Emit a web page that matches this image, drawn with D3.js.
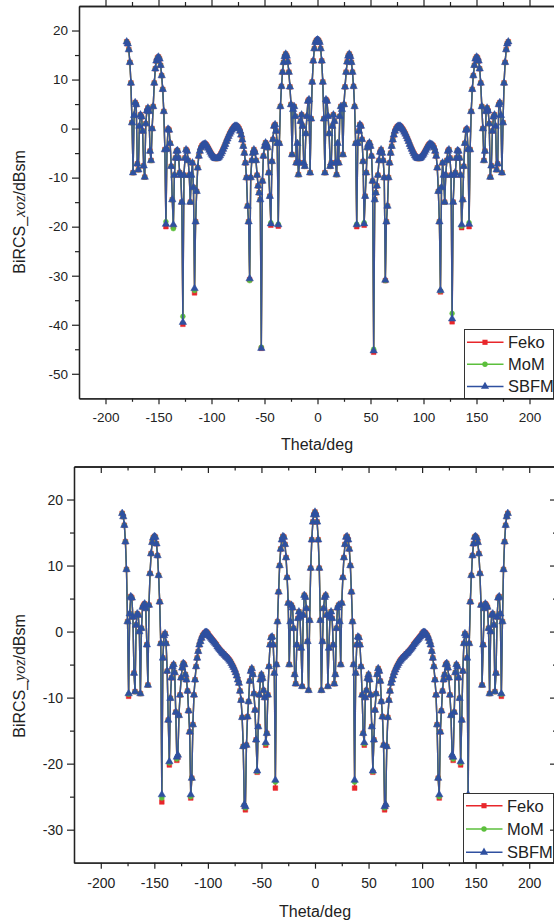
<!DOCTYPE html>
<html><head><meta charset="utf-8">
<script src="https://cdn.jsdelivr.net/npm/d3@7"></script>
<style>
body{margin:0;background:#fff}
svg{display:block}
text{font-family:"Liberation Sans",Arial,sans-serif;fill:#222}
</style></head>
<body><svg id="c" width="554" height="923"></svg>
<script>
const theta = [
-180,-179,-178,-177,-176,-175,-174,-173,-172,-171,-170,-169,-168,-167,-166,-165,-164,-163,-162,-161,
-160,-159,-158,-157,-156,-155,-154,-153,-152,-151,-150,-149,-148,-147,-146,-145,-144,-143,-142,-141,
-140,-139,-138,-137,-136,-135,-134,-133,-132,-131,-130,-129,-128,-127,-126,-125,-124,-123,-122,-121,
-120,-119,-118,-117,-116,-115,-114,-113,-112,-111,-110,-109,-108,-107,-106,-105,-104,-103,-102,-101,
-100,-99,-98,-97,-96,-95,-94,-93,-92,-91,-90,-89,-88,-87,-86,-85,-84,-83,-82,-81,
-80,-79,-78,-77,-76,-75,-74,-73,-72,-71,-70,-69,-68,-67,-66,-65,-64,-63,-62,-61,
-60,-59,-58,-57,-56,-55,-54,-53,-52,-51,-50,-49,-48,-47,-46,-45,-44,-43,-42,-41,
-40,-39,-38,-37,-36,-35,-34,-33,-32,-31,-30,-29,-28,-27,-26,-25,-24,-23,-22,-21,
-20,-19,-18,-17,-16,-15,-14,-13,-12,-11,-10,-9,-8,-7,-6,-5,-4,-3,-2,-1,
0,1,2,3,4,5,6,7,8,9,10,11,12,13,14,15,16,17,18,19,
20,21,22,23,24,25,26,27,28,29,30,31,32,33,34,35,36,37,38,39,
40,41,42,43,44,45,46,47,48,49,50,51,52,53,54,55,56,57,58,59,
60,61,62,63,64,65,66,67,68,69,70,71,72,73,74,75,76,77,78,79,
80,81,82,83,84,85,86,87,88,89,90,91,92,93,94,95,96,97,98,99,
100,101,102,103,104,105,106,107,108,109,110,111,112,113,114,115,116,117,118,119,
120,121,122,123,124,125,126,127,128,129,130,131,132,133,134,135,136,137,138,139,
140,141,142,143,144,145,146,147,148,149,150,151,152,153,154,155,156,157,158,159,
160,161,162,163,164,165,166,167,168,169,170,171,172,173,174,175,176,177,178,179,
180];

const xozFeko = [
17.7,17.3,16.1,13.5,9.3,1.2,-9.0,2.7,5.3,4.9,
-7.2,-8.4,0.5,2.8,2.4,-0.5,-7.6,-9.9,1.0,3.6,
4.2,3.5,-4.6,-6.5,0.0,4.5,9.3,12.2,13.8,14.4,
14.6,14.2,12.9,10.8,8.0,3.5,-4.3,-20.0,-4.2,-0.1,
-0.3,-3.0,-7.7,-14.5,-20.0,-9.5,-6.0,-4.6,-4.5,-6.0,
-9.0,-9.5,-15.0,-39.9,-9.5,-6.0,-4.3,-4.6,-6.5,-9.5,
-15.0,-9.5,-7.0,-12.0,-33.5,-19.0,-12.8,-8.0,-5.6,-4.6,
-3.9,-3.5,-3.3,-3.2,-3.1,-3.3,-3.6,-4.0,-4.4,-4.8,
-5.2,-5.5,-5.8,-6.0,-6.1,-6.1,-6.0,-5.8,-5.5,-5.1,
-4.7,-4.2,-3.7,-3.2,-2.6,-2.1,-1.6,-1.1,-0.7,-0.3,
0.0,0.3,0.5,0.5,0.5,0.3,0.0,-0.5,-1.3,-2.3,
-3.6,-5.0,-7.0,-10.0,-15.8,-19.0,-30.8,-10.0,-6.5,-5.0,
-4.3,-4.8,-6.5,-9.5,-11.7,-13.1,-14.5,-44.8,-10.7,-5.6,
-3.6,-2.9,-3.2,-3.9,-9.0,-13.8,-19.7,-6.7,-2.2,0.5,
0.8,-0.5,-3.0,-19.9,-3.0,4.5,8.6,11.5,13.5,14.7,
15.2,14.8,13.6,11.5,8.5,4.9,-5.3,3.9,4.5,2.5,
-7.0,-3.0,-9.4,-7.0,1.5,2.8,0.5,-7.0,-7.7,-1.0,
2.5,5.6,5.9,-9.0,2.0,9.5,13.8,16.3,17.6,18.0,
18.1,
18.0,17.6,16.3,13.8,9.5,2.0,-9.0,5.9,5.6,2.5,
-1.0,-7.7,-7.0,0.5,2.8,1.5,-7.0,-9.4,-3.0,-7.0,
2.5,4.5,3.9,-5.3,4.9,8.5,11.5,13.6,14.8,15.2,
14.7,13.5,11.5,8.6,4.5,-3.0,-20.0,-3.0,-0.5,0.8,
0.5,-2.2,-6.7,-19.7,-13.8,-9.0,-3.9,-3.2,-2.9,-3.6,
-5.6,-10.7,-45.6,-14.5,-13.1,-11.7,-9.5,-6.5,-4.8,-4.3,
-5.0,-6.5,-10.0,-31.0,-19.0,-15.8,-10.0,-7.0,-5.0,-3.6,
-2.3,-1.3,-0.5,0.0,0.3,0.5,0.5,0.5,0.3,0.0,
-0.3,-0.7,-1.1,-1.6,-2.1,-2.6,-3.2,-3.7,-4.2,-4.7,
-5.1,-5.5,-5.8,-6.0,-6.1,-6.1,-6.0,-5.8,-5.5,-5.2,
-4.8,-4.4,-4.0,-3.6,-3.3,-3.1,-3.2,-3.3,-3.5,-3.9,
-4.6,-5.6,-8.0,-12.8,-19.0,-33.3,-12.0,-7.0,-9.5,-15.0,
-9.5,-6.5,-4.6,-4.3,-6.0,-9.5,-39.4,-15.0,-9.5,-9.0,
-6.0,-4.5,-4.6,-6.0,-9.5,-20.2,-14.5,-7.7,-3.0,-0.3,
-0.1,-4.2,-20.0,-4.3,3.5,8.0,10.8,12.9,14.2,14.6,
14.4,13.8,12.2,9.3,4.5,0.0,-6.5,-4.6,3.5,4.2,
3.6,1.0,-9.9,-7.6,-0.5,2.4,2.8,0.5,-8.4,-7.2,
4.9,5.3,2.7,-9.0,1.2,9.3,13.5,16.1,17.3,17.7];

const xozMoM = [
17.7,17.3,16.1,13.5,9.3,1.2,-9.0,2.7,5.3,4.9,
-7.2,-8.4,0.5,2.8,2.4,-0.5,-7.6,-9.9,1.0,3.6,
4.2,3.5,-4.6,-6.5,0.0,4.5,9.3,12.2,13.8,14.4,
14.6,14.2,12.9,10.8,8.0,3.5,-4.3,-19.0,-4.2,-0.1,
-0.3,-3.0,-7.7,-14.5,-20.4,-9.5,-6.0,-4.6,-4.5,-6.0,
-9.0,-9.5,-15.0,-38.3,-9.5,-6.0,-4.3,-4.6,-6.5,-9.5,
-15.0,-9.5,-7.0,-12.0,-33.0,-19.0,-12.8,-8.0,-5.6,-4.6,
-3.9,-3.5,-3.3,-3.2,-3.1,-3.3,-3.6,-4.0,-4.4,-4.8,
-5.2,-5.5,-5.8,-6.0,-6.1,-6.1,-6.0,-5.8,-5.5,-5.1,
-4.7,-4.2,-3.7,-3.2,-2.6,-2.1,-1.6,-1.1,-0.7,-0.3,
0.0,0.3,0.5,0.5,0.5,0.3,0.0,-0.5,-1.3,-2.3,
-3.6,-5.0,-7.0,-10.0,-15.8,-19.0,-31.0,-10.0,-6.5,-5.0,
-4.3,-4.8,-6.5,-9.5,-11.7,-13.1,-14.5,-44.6,-10.7,-5.6,
-3.6,-2.9,-3.2,-3.9,-9.0,-13.8,-19.2,-6.7,-2.2,0.5,
0.8,-0.5,-3.0,-19.5,-3.0,4.5,8.6,11.5,13.5,14.7,
15.2,14.8,13.6,11.5,8.5,4.9,-5.3,3.9,4.5,2.5,
-7.0,-3.0,-9.4,-7.0,1.5,2.8,0.5,-7.0,-7.7,-1.0,
2.5,5.6,5.9,-9.0,2.0,9.5,13.8,16.3,17.6,18.0,
18.1,
18.0,17.6,16.3,13.8,9.5,2.0,-9.0,5.9,5.6,2.5,
-1.0,-7.7,-7.0,0.5,2.8,1.5,-7.0,-9.4,-3.0,-7.0,
2.5,4.5,3.9,-5.3,4.9,8.5,11.5,13.6,14.8,15.2,
14.7,13.5,11.5,8.6,4.5,-3.0,-19.5,-3.0,-0.5,0.8,
0.5,-2.2,-6.7,-19.2,-13.8,-9.0,-3.9,-3.2,-2.9,-3.6,
-5.6,-10.7,-45.0,-14.5,-13.1,-11.7,-9.5,-6.5,-4.8,-4.3,
-5.0,-6.5,-10.0,-31.0,-19.0,-15.8,-10.0,-7.0,-5.0,-3.6,
-2.3,-1.3,-0.5,0.0,0.3,0.5,0.5,0.5,0.3,0.0,
-0.3,-0.7,-1.1,-1.6,-2.1,-2.6,-3.2,-3.7,-4.2,-4.7,
-5.1,-5.5,-5.8,-6.0,-6.1,-6.1,-6.0,-5.8,-5.5,-5.2,
-4.8,-4.4,-4.0,-3.6,-3.3,-3.1,-3.2,-3.3,-3.5,-3.9,
-4.6,-5.6,-8.0,-12.8,-19.0,-33.1,-12.0,-7.0,-9.5,-15.0,
-9.5,-6.5,-4.6,-4.3,-6.0,-9.5,-37.7,-15.0,-9.5,-9.0,
-6.0,-4.5,-4.6,-6.0,-9.5,-19.9,-14.5,-7.7,-3.0,-0.3,
-0.1,-4.2,-19.2,-4.3,3.5,8.0,10.8,12.9,14.2,14.6,
14.4,13.8,12.2,9.3,4.5,0.0,-6.5,-4.6,3.5,4.2,
3.6,1.0,-9.9,-7.6,-0.5,2.4,2.8,0.5,-8.4,-7.2,
4.9,5.3,2.7,-9.0,1.2,9.3,13.5,16.1,17.3,17.7];

const xozSBFM = [
17.7,17.3,16.1,13.5,9.3,1.2,-9.0,2.7,5.3,4.9,
-7.2,-8.4,0.5,2.8,2.4,-0.5,-7.6,-9.9,1.0,3.6,
4.2,3.5,-4.6,-6.5,0.0,4.5,9.3,12.2,13.8,14.4,
14.6,14.2,12.9,10.8,8.0,3.5,-4.3,-19.5,-4.2,-0.1,
-0.3,-3.0,-7.7,-14.5,-19.6,-9.5,-6.0,-4.6,-4.5,-6.0,
-9.0,-9.5,-15.0,-39.5,-9.5,-6.0,-4.3,-4.6,-6.5,-9.5,
-15.0,-9.5,-7.0,-12.0,-32.6,-19.0,-12.8,-8.0,-5.6,-4.6,
-3.9,-3.5,-3.3,-3.2,-3.1,-3.3,-3.6,-4.0,-4.4,-4.8,
-5.2,-5.5,-5.8,-6.0,-6.1,-6.1,-6.0,-5.8,-5.5,-5.1,
-4.7,-4.2,-3.7,-3.2,-2.6,-2.1,-1.6,-1.1,-0.7,-0.3,
0.0,0.3,0.5,0.5,0.5,0.3,0.0,-0.5,-1.3,-2.3,
-3.6,-5.0,-7.0,-10.0,-15.8,-19.0,-30.6,-10.0,-6.5,-5.0,
-4.3,-4.8,-6.5,-9.5,-11.7,-13.1,-14.5,-44.8,-10.7,-5.6,
-3.6,-2.9,-3.2,-3.9,-9.0,-13.8,-19.4,-6.7,-2.2,0.5,
0.8,-0.5,-3.0,-19.6,-3.0,4.5,8.6,11.5,13.5,14.7,
15.2,14.8,13.6,11.5,8.5,4.9,-5.3,3.9,4.5,2.5,
-7.0,-3.0,-9.4,-7.0,1.5,2.8,0.5,-7.0,-7.7,-1.0,
2.5,5.6,5.9,-9.0,2.0,9.5,13.8,16.3,17.6,18.0,
18.1,
18.0,17.6,16.3,13.8,9.5,2.0,-9.0,5.9,5.6,2.5,
-1.0,-7.7,-7.0,0.5,2.8,1.5,-7.0,-9.4,-3.0,-7.0,
2.5,4.5,3.9,-5.3,4.9,8.5,11.5,13.6,14.8,15.2,
14.7,13.5,11.5,8.6,4.5,-3.0,-19.6,-3.0,-0.5,0.8,
0.5,-2.2,-6.7,-19.4,-13.8,-9.0,-3.9,-3.2,-2.9,-3.6,
-5.6,-10.7,-45.3,-14.5,-13.1,-11.7,-9.5,-6.5,-4.8,-4.3,
-5.0,-6.5,-10.0,-30.9,-19.0,-15.8,-10.0,-7.0,-5.0,-3.6,
-2.3,-1.3,-0.5,0.0,0.3,0.5,0.5,0.5,0.3,0.0,
-0.3,-0.7,-1.1,-1.6,-2.1,-2.6,-3.2,-3.7,-4.2,-4.7,
-5.1,-5.5,-5.8,-6.0,-6.1,-6.1,-6.0,-5.8,-5.5,-5.2,
-4.8,-4.4,-4.0,-3.6,-3.3,-3.1,-3.2,-3.3,-3.5,-3.9,
-4.6,-5.6,-8.0,-12.8,-19.0,-33.0,-12.0,-7.0,-9.5,-15.0,
-9.5,-6.5,-4.6,-4.3,-6.0,-9.5,-38.8,-15.0,-9.5,-9.0,
-6.0,-4.5,-4.6,-6.0,-9.5,-19.6,-14.5,-7.7,-3.0,-0.3,
-0.1,-4.2,-19.5,-4.3,3.5,8.0,10.8,12.9,14.2,14.6,
14.4,13.8,12.2,9.3,4.5,0.0,-6.5,-4.6,3.5,4.2,
3.6,1.0,-9.9,-7.6,-0.5,2.4,2.8,0.5,-8.4,-7.2,
4.9,5.3,2.7,-9.0,1.2,9.3,13.5,16.1,17.3,17.7];

const yozFeko = [
17.9,17.4,16.1,13.6,9.4,1.5,-9.8,2.7,5.3,5.1,
2.2,-6.3,-9.1,1.0,2.7,2.5,0.0,-9.4,0.5,3.7,
4.0,4.2,3.5,-2.0,-8.1,4.0,8.8,11.8,13.5,14.2,
14.4,14.3,13.3,11.5,8.5,4.5,-1.8,-25.8,-4.0,-0.6,
-0.3,-1.8,-6.0,-13.4,-20.2,-10.1,-7.0,-5.3,-5.0,-6.2,
-12.2,-19.5,-19.0,-12.7,-9.6,-7.0,-5.5,-4.8,-5.0,-6.5,
-7.3,-9.0,-12.0,-15.2,-25.2,-22.2,-14.1,-9.6,-7.3,-5.3,
-4.0,-3.0,-2.0,-1.5,-1.0,-0.6,-0.4,-0.2,-0.1,-0.1,
-0.3,-0.6,-0.8,-1.0,-1.2,-1.4,-1.6,-1.8,-2.0,-2.3,
-2.5,-2.7,-2.9,-3.1,-3.3,-3.4,-3.6,-3.8,-3.9,-4.1,
-4.3,-4.5,-4.8,-5.1,-5.4,-5.8,-6.2,-6.7,-7.3,-7.8,
-9.0,-10.4,-13.0,-17.4,-26.4,-27.0,-17.2,-12.9,-10.6,-7.5,
-6.0,-5.6,-6.5,-9.4,-11.9,-16.4,-21.3,-14.4,-9.6,-7.3,
-6.5,-7.1,-8.9,-10.0,-17.2,-15.4,-9.6,-5.3,-2.0,-0.9,
-0.8,-2.0,-6.3,-23.7,-5.0,1.5,6.0,10.0,12.5,13.9,
14.4,14.3,13.2,11.2,8.2,4.3,-5.0,1.5,4.0,3.6,
0.5,-6.5,-7.9,-2.0,2.0,3.0,2.2,-2.5,-8.3,2.5,
5.5,5.2,3.5,-1.5,-8.9,1.7,9.6,13.9,16.6,17.7,
18.1,
17.7,16.6,13.9,9.6,1.7,-8.9,-1.5,3.5,5.2,5.5,
2.5,-8.3,-2.5,2.2,3.0,2.0,-2.0,-7.9,-6.5,0.5,
3.6,4.0,1.5,-5.0,4.3,8.2,11.2,13.2,14.3,14.4,
13.9,12.5,10.0,6.0,1.5,-5.0,-23.7,-6.3,-2.0,-0.8,
-0.9,-2.0,-5.3,-9.6,-15.4,-17.2,-10.0,-8.9,-7.1,-6.5,
-7.3,-9.6,-14.4,-21.3,-16.4,-11.9,-9.4,-6.5,-5.6,-6.0,
-7.5,-10.6,-12.9,-17.2,-27.0,-26.4,-17.4,-13.0,-10.4,-9.0,
-7.8,-7.3,-6.7,-6.2,-5.8,-5.4,-5.1,-4.8,-4.5,-4.3,
-4.1,-3.9,-3.8,-3.6,-3.4,-3.3,-3.1,-2.9,-2.7,-2.5,
-2.3,-2.0,-1.8,-1.6,-1.4,-1.2,-1.0,-0.8,-0.6,-0.3,
-0.1,-0.1,-0.2,-0.4,-0.6,-1.0,-1.5,-2.0,-3.0,-4.0,
-5.3,-7.3,-9.6,-14.1,-22.2,-25.2,-15.2,-12.0,-9.0,-7.3,
-6.5,-5.0,-4.8,-5.5,-7.0,-9.6,-12.7,-19.0,-19.5,-12.2,
-6.2,-5.0,-5.3,-7.0,-10.1,-20.2,-13.4,-6.0,-1.8,-0.3,
-0.6,-4.0,-25.8,-1.8,4.5,8.5,11.5,13.3,14.3,14.4,
14.2,13.5,11.8,8.8,4.0,-8.1,-2.0,3.5,4.2,4.0,
3.7,0.5,-9.4,0.0,2.5,2.7,1.0,-9.1,-6.3,2.2,
5.1,5.3,2.7,-9.8,1.5,9.4,13.6,16.1,17.4,17.9];

const yozMoM = [
17.9,17.4,16.1,13.6,9.4,1.5,-9.5,2.7,5.3,5.1,
2.2,-6.3,-9.1,1.0,2.7,2.5,0.0,-9.4,0.5,3.7,
4.0,4.2,3.5,-2.0,-8.1,4.0,8.8,11.8,13.5,14.2,
14.4,14.3,13.3,11.5,8.5,4.5,-1.8,-25.2,-4.0,-0.6,
-0.3,-1.8,-6.0,-13.4,-19.9,-10.1,-7.0,-5.3,-5.0,-6.2,
-12.2,-19.3,-18.8,-12.7,-9.6,-7.0,-5.5,-4.8,-5.0,-6.5,
-7.3,-9.0,-12.0,-15.2,-25.0,-22.2,-14.1,-9.6,-7.3,-5.3,
-4.0,-3.0,-2.0,-1.5,-1.0,-0.6,-0.4,-0.2,-0.1,-0.1,
-0.3,-0.6,-0.8,-1.0,-1.2,-1.4,-1.6,-1.8,-2.0,-2.3,
-2.5,-2.7,-2.9,-3.1,-3.3,-3.4,-3.6,-3.8,-3.9,-4.1,
-4.3,-4.5,-4.8,-5.1,-5.4,-5.8,-6.2,-6.7,-7.3,-7.8,
-9.0,-10.4,-13.0,-17.4,-26.3,-26.7,-17.2,-12.9,-10.6,-7.5,
-6.0,-5.6,-6.5,-9.4,-11.9,-16.4,-21.2,-14.4,-9.6,-7.3,
-6.5,-7.1,-8.9,-10.0,-17.0,-15.4,-9.6,-5.3,-2.0,-0.9,
-0.8,-2.0,-6.3,-22.8,-5.0,1.5,6.0,10.0,12.5,13.9,
14.4,14.3,13.2,11.2,8.2,4.3,-5.0,1.5,4.0,3.6,
0.5,-6.5,-7.9,-2.0,2.0,3.0,2.2,-2.5,-8.3,2.5,
5.5,5.2,3.5,-1.5,-8.9,1.7,9.6,13.9,16.6,17.7,
18.1,
17.7,16.6,13.9,9.6,1.7,-8.9,-1.5,3.5,5.2,5.5,
2.5,-8.3,-2.5,2.2,3.0,2.0,-2.0,-7.9,-6.5,0.5,
3.6,4.0,1.5,-5.0,4.3,8.2,11.2,13.2,14.3,14.4,
13.9,12.5,10.0,6.0,1.5,-5.0,-22.8,-6.3,-2.0,-0.8,
-0.9,-2.0,-5.3,-9.6,-15.4,-17.0,-10.0,-8.9,-7.1,-6.5,
-7.3,-9.6,-14.4,-21.2,-16.4,-11.9,-9.4,-6.5,-5.6,-6.0,
-7.5,-10.6,-12.9,-17.2,-26.7,-26.3,-17.4,-13.0,-10.4,-9.0,
-7.8,-7.3,-6.7,-6.2,-5.8,-5.4,-5.1,-4.8,-4.5,-4.3,
-4.1,-3.9,-3.8,-3.6,-3.4,-3.3,-3.1,-2.9,-2.7,-2.5,
-2.3,-2.0,-1.8,-1.6,-1.4,-1.2,-1.0,-0.8,-0.6,-0.3,
-0.1,-0.1,-0.2,-0.4,-0.6,-1.0,-1.5,-2.0,-3.0,-4.0,
-5.3,-7.3,-9.6,-14.1,-22.2,-25.0,-15.2,-12.0,-9.0,-7.3,
-6.5,-5.0,-4.8,-5.5,-7.0,-9.6,-12.7,-18.8,-19.3,-12.2,
-6.2,-5.0,-5.3,-7.0,-10.1,-19.9,-13.4,-6.0,-1.8,-0.3,
-0.6,-4.0,-25.2,-1.8,4.5,8.5,11.5,13.3,14.3,14.4,
14.2,13.5,11.8,8.8,4.0,-8.1,-2.0,3.5,4.2,4.0,
3.7,0.5,-9.4,0.0,2.5,2.7,1.0,-9.1,-6.3,2.2,
5.1,5.3,2.7,-9.5,1.5,9.4,13.6,16.1,17.4,17.9];

const yozSBFM = [
17.9,17.4,16.1,13.6,9.4,1.5,-9.4,2.7,5.3,5.1,
2.2,-6.3,-9.1,1.0,2.7,2.5,0.0,-9.4,0.5,3.7,
4.0,4.2,3.5,-2.0,-8.1,4.0,8.8,11.8,13.5,14.2,
14.4,14.3,13.3,11.5,8.5,4.5,-1.8,-24.7,-4.0,-0.6,
-0.3,-1.8,-6.0,-13.4,-19.7,-10.1,-7.0,-5.3,-5.0,-6.2,
-12.2,-19.0,-18.7,-12.7,-9.6,-7.0,-5.5,-4.8,-5.0,-6.5,
-7.3,-9.0,-12.0,-15.2,-24.7,-22.2,-14.1,-9.6,-7.3,-5.3,
-4.0,-3.0,-2.0,-1.5,-1.0,-0.6,-0.4,-0.2,-0.1,-0.1,
-0.3,-0.6,-0.8,-1.0,-1.2,-1.4,-1.6,-1.8,-2.0,-2.3,
-2.5,-2.7,-2.9,-3.1,-3.3,-3.4,-3.6,-3.8,-3.9,-4.1,
-4.3,-4.5,-4.8,-5.1,-5.4,-5.8,-6.2,-6.7,-7.3,-7.8,
-9.0,-10.4,-13.0,-17.4,-26.2,-26.5,-17.2,-12.9,-10.6,-7.5,
-6.0,-5.6,-6.5,-9.4,-11.9,-16.4,-21.1,-14.4,-9.6,-7.3,
-6.5,-7.1,-8.9,-10.0,-16.8,-15.4,-9.6,-5.3,-2.0,-0.9,
-0.8,-2.0,-6.3,-22.5,-5.0,1.5,6.0,10.0,12.5,13.9,
14.4,14.3,13.2,11.2,8.2,4.3,-5.0,1.5,4.0,3.6,
0.5,-6.5,-7.9,-2.0,2.0,3.0,2.2,-2.5,-8.3,2.5,
5.5,5.2,3.5,-1.5,-8.9,1.7,9.6,13.9,16.6,17.7,
18.1,
17.7,16.6,13.9,9.6,1.7,-8.9,-1.5,3.5,5.2,5.5,
2.5,-8.3,-2.5,2.2,3.0,2.0,-2.0,-7.9,-6.5,0.5,
3.6,4.0,1.5,-5.0,4.3,8.2,11.2,13.2,14.3,14.4,
13.9,12.5,10.0,6.0,1.5,-5.0,-22.5,-6.3,-2.0,-0.8,
-0.9,-2.0,-5.3,-9.6,-15.4,-16.8,-10.0,-8.9,-7.1,-6.5,
-7.3,-9.6,-14.4,-21.1,-16.4,-11.9,-9.4,-6.5,-5.6,-6.0,
-7.5,-10.6,-12.9,-17.2,-26.5,-26.2,-17.4,-13.0,-10.4,-9.0,
-7.8,-7.3,-6.7,-6.2,-5.8,-5.4,-5.1,-4.8,-4.5,-4.3,
-4.1,-3.9,-3.8,-3.6,-3.4,-3.3,-3.1,-2.9,-2.7,-2.5,
-2.3,-2.0,-1.8,-1.6,-1.4,-1.2,-1.0,-0.8,-0.6,-0.3,
-0.1,-0.1,-0.2,-0.4,-0.6,-1.0,-1.5,-2.0,-3.0,-4.0,
-5.3,-7.3,-9.6,-14.1,-22.2,-24.7,-15.2,-12.0,-9.0,-7.3,
-6.5,-5.0,-4.8,-5.5,-7.0,-9.6,-12.7,-18.7,-19.0,-12.2,
-6.2,-5.0,-5.3,-7.0,-10.1,-19.7,-13.4,-6.0,-1.8,-0.3,
-0.6,-4.0,-24.7,-1.8,4.5,8.5,11.5,13.3,14.3,14.4,
14.2,13.5,11.8,8.8,4.0,-8.1,-2.0,3.5,4.2,4.0,
3.7,0.5,-9.4,0.0,2.5,2.7,1.0,-9.1,-6.3,2.2,
5.1,5.3,2.7,-9.4,1.5,9.4,13.6,16.1,17.4,17.9];

const seriesNames = ["Feko", "MoM", "SBFM"];
const xTicks = [-200, -150, -100, -50, 0, 50, 100, 150, 200];
const xMinorTicks = [-175, -125, -75, -25, 25, 75, 125, 175];
const xozYTicks = [20, 10, 0, -10, -20, -30, -40, -50];
const xozYMinor = [15, 5, -5, -15, -25, -35, -45];
const yozYTicks = [20, 10, 0, -10, -20, -30];
const yozYMinor = [15, 5, -5, -15, -25];

const COLORS = ["#e8262b", "#5cbf3c", "#2f50a0"];
const LINECOLORS = ["#e8262b", "#5cbf3c", "#3a5496"];
const SYMBOLS = [d3.symbolSquare, d3.symbolCircle, d3.symbolTriangle];
const SYMSIZE = [22, 19, 24];

const svg = d3.select("#c");

function drawPanel(p) {
  const x = d3.scaleLinear().domain([-225, 225]).range([p.x0, p.x1]);
  const y = d3.scaleLinear().domain(p.yDomain).range([p.y1, p.y0]);
  const g = svg.append("g");
  const vals = [p.feko, p.mom, p.sbfm];

  vals.forEach((v, k) => {
    const line = d3.line().x((d, i) => x(theta[i])).y(d => y(d));
    g.append("path").attr("d", line(v)).attr("fill", "none")
      .attr("stroke", LINECOLORS[k]).attr("stroke-width", 1.4).attr("stroke-linejoin", "round");
    const sym = d3.symbol(SYMBOLS[k], SYMSIZE[k])();
    g.append("g").selectAll("path").data(v).join("path")
      .attr("transform", (d, i) => `translate(${x(theta[i])},${y(d)})`)
      .attr("d", sym).attr("fill", COLORS[k])
      .attr("stroke", COLORS[k]).attr("stroke-width", 0.5);
  });

  // legend
  const L = p.legend;
  g.append("rect").attr("x", L.x).attr("y", L.y).attr("width", L.w).attr("height", L.h)
    .attr("fill", "#fff").attr("stroke", "#333").attr("stroke-width", 1);
  seriesNames.forEach((name, k) => {
    const cy = L.rows[k];
    g.append("line").attr("x1", L.x + 2.5).attr("x2", L.x + 39).attr("y1", cy).attr("y2", cy)
      .attr("stroke", COLORS[k]).attr("stroke-width", 1.5);
    g.append("path").attr("transform", `translate(${L.x + 20.5},${cy})`)
      .attr("d", d3.symbol(SYMBOLS[k], SYMSIZE[k] * 1.2)()).attr("fill", COLORS[k]);
    g.append("text").attr("x", L.x + 43.5).attr("y", cy).attr("dy", "0.36em")
      .style("font-size", "16.5px").text(name);
  });

  // axes
  const fmt = d => String(d);
  const put = (axis, tx, ty) => {
    const a = g.append("g").attr("transform", `translate(${tx},${ty})`).call(axis)
      .attr("font-family", "Liberation Sans, Arial, sans-serif")
      .attr("font-size", p.tickFont).style("color", "#222");
    a.select(".domain").attr("stroke-width", 1.3);
    a.selectAll(".tick line").attr("stroke-width", 1.2);
    return a;
  };
  put(d3.axisBottom(x).tickValues(xTicks).tickSize(6).tickSizeOuter(0).tickPadding(p.xPad).tickFormat(fmt), 0, p.y1);
  put(d3.axisBottom(x).tickValues(xMinorTicks).tickSize(3.5).tickSizeOuter(0).tickFormat(""), 0, p.y1);
  put(d3.axisLeft(y).tickValues(p.yTicks).tickSize(7).tickSizeOuter(0).tickPadding(4).tickFormat(fmt), p.x0, 0);
  put(d3.axisLeft(y).tickValues(p.yMinor).tickSize(4).tickSizeOuter(0).tickFormat(""), p.x0, 0);
  const s = p.outward ? 1 : -1;
  put(d3.axisTop(x).tickValues(xTicks).tickSize(6.5 * s).tickSizeOuter(0).tickFormat(""), 0, p.y0);
  put(d3.axisTop(x).tickValues(xMinorTicks).tickSize(4 * s).tickSizeOuter(0).tickFormat(""), 0, p.y0);
  put(d3.axisRight(y).tickValues(p.yTicks).tickSize(6 * s).tickSizeOuter(0).tickFormat(""), p.x1, 0);
  put(d3.axisRight(y).tickValues(p.yMinor).tickSize(3 * s).tickSizeOuter(0).tickFormat(""), p.x1, 0);

  // titles
  g.append("text").attr("x", p.titleX).attr("y", p.titleY).attr("text-anchor", "middle")
    .style("font-size", "16px").text("Theta/deg");
  const yt = g.append("text").attr("transform", `translate(${p.yTitleX},${p.yTitleY}) rotate(-90)`)
    .attr("text-anchor", "middle").style("font-size", "16px");
  yt.append("tspan").text("BiRCS_");
  yt.append("tspan").style("font-family", "Liberation Serif, Times New Roman, serif")
    .style("font-style", "italic").text(p.plane);
  yt.append("tspan").text("/dBsm");
}

drawPanel({
  plane: "xoz", feko: xozFeko, mom: xozMoM, sbfm: xozSBFM,
  yDomain: [-55, 25], yTicks: xozYTicks, yMinor: xozYMinor,
  x0: 79, x1: 556, y0: 6, y1: 398.3, outward: true, tickFont: 13.5, xPad: 8,
  titleX: 317, titleY: 449.5, yTitleX: 25, yTitleY: 212,
  legend: {x: 464.5, y: 329.5, w: 89, h: 69, rows: [342.3, 364.3, 386.5]}
});
drawPanel({
  plane: "yoz", feko: yozFeko, mom: yozMoM, sbfm: yozSBFM,
  yDomain: [-35, 25], yTicks: yozYTicks, yMinor: yozYMinor,
  x0: 74, x1: 556, y0: 466.5, y1: 862.7, outward: false, tickFont: 14, xPad: 9,
  titleX: 315, titleY: 916.5, yTitleX: 25, yTitleY: 676,
  legend: {x: 463.5, y: 793.5, w: 90, h: 69.2, rows: [805.7, 829, 852.3]}
});
</script>
</body></html>
